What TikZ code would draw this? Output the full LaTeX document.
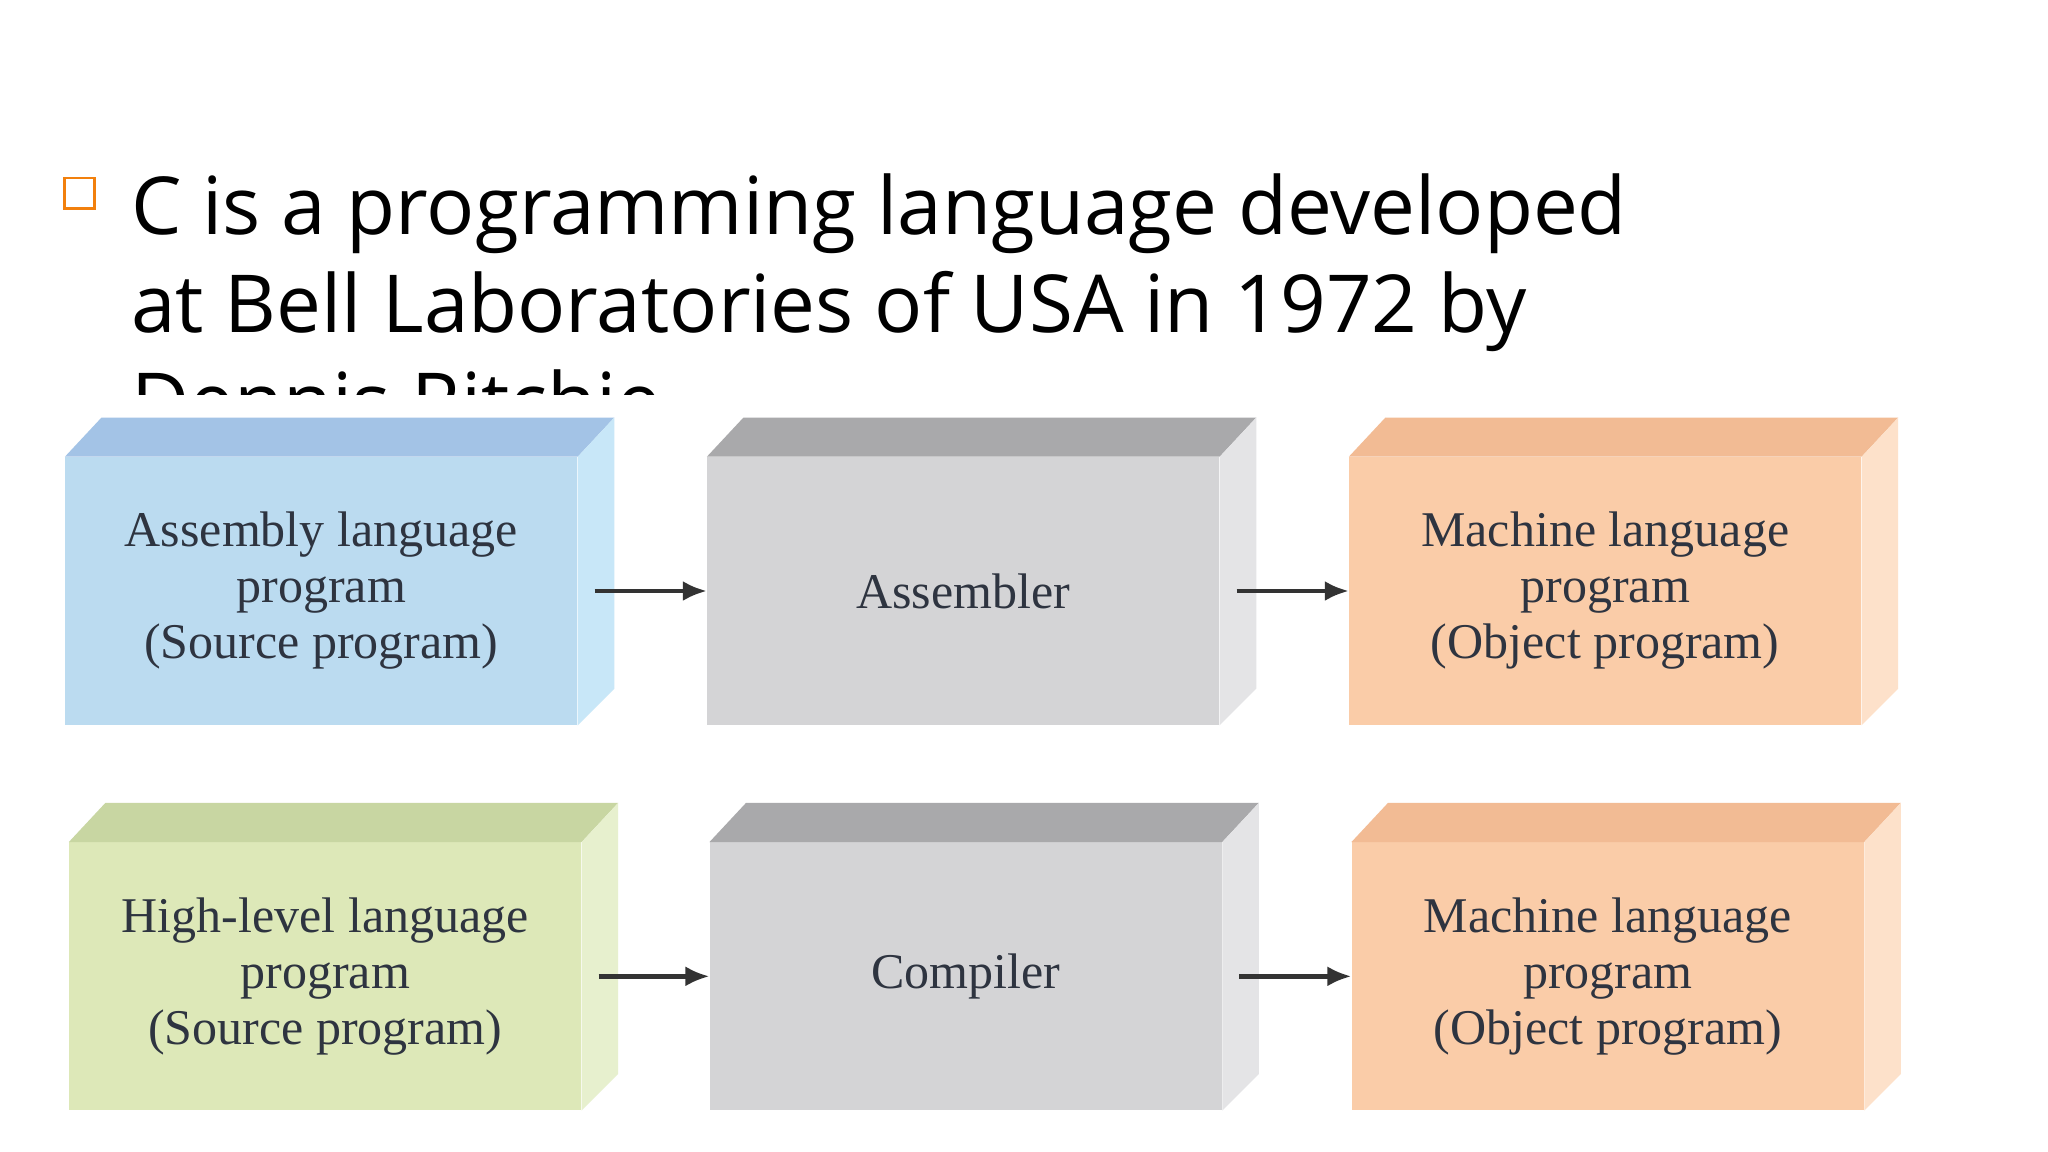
\documentclass[tikz,border=0pt]{standalone}
\usepackage{fontspec}
\usetikzlibrary{arrows.meta}
\setmainfont{Liberation Serif}
\newfontfamily\titlefont{Open Sans}
\definecolor{bF}{HTML}{BBDBF0}\definecolor{bT}{HTML}{A3C3E6}\definecolor{bS}{HTML}{C8E7F8}
\definecolor{gF}{HTML}{D4D4D6}\definecolor{gT}{HTML}{A9A9AB}\definecolor{gS}{HTML}{E4E4E6}
\definecolor{oF}{HTML}{FACCA8}\definecolor{oT}{HTML}{F2BB94}\definecolor{oS}{HTML}{FDE1CA}
\definecolor{lF}{HTML}{DDE8B8}\definecolor{lT}{HTML}{C8D6A2}\definecolor{lS}{HTML}{E7F0CE}
\definecolor{txt}{HTML}{2E3440}
\newcommand{\mycube}[5]{%
  \node[front, fill=#4F] (#1) at (#2,#3) {#5};
  \fill[#4T] (#1.north west) -- ++(28,-30) -- ([shift={(28,-30)}]#1.north east) -- (#1.north east) -- cycle;
  \fill[#4S] (#1.north east) -- ++(28,-30) -- ([shift={(28,-28)}]#1.south east) -- (#1.south east) -- cycle;
}
\begin{document}
\begin{tikzpicture}[x=0.653pt,y=-0.653pt,
  front/.style={minimum width=392*0.653pt, minimum height=205*0.653pt, inner sep=0pt, align=center,
    font=\fontsize{25}{28}\selectfont, text=txt},
  arr/.style={draw=black!80, line width=2.2pt, -{Latex[length=12pt,width=10pt]}}]
\useasboundingbox (0,0) rectangle (1568,882);
\fill[white] (0,0) rectangle (1568,882);
\node[draw=orange!80!brown, line width=1.2pt, minimum size=15pt, inner sep=0pt] (bul) at (61,148) {};
\begin{scope}
\clip (0,0) rectangle (1568,302);
\node[anchor=north west, align=left, font=\titlefont\fontsize{40}{49}\selectfont, inner sep=0pt] (title) at (100,133)
 {C is a programming language developed\\at Bell Laboratories of USA in 1972 by\\Dennis Ritchie};
\end{scope}
\mycube{a1}{246}{452.5}{b}{Assembly language\\program\\(Source program)}
\mycube{a2}{737.5}{452.5}{g}{Assembler}
\mycube{a3}{1229}{452.5}{o}{Machine language\\program\\(Object program)}
\mycube{c1}{249}{747.5}{l}{High-level language\\program\\(Source program)}
\mycube{c2}{739.5}{747.5}{g}{Compiler}
\mycube{c3}{1231}{747.5}{o}{Machine language\\program\\(Object program)}
\draw[arr] ([xshift=8.5pt]a1.east) -- (a2.west);
\draw[arr] ([xshift=8.5pt]a2.east) -- (a3.west);
\draw[arr] ([xshift=8.5pt]c1.east) -- (c2.west);
\draw[arr] ([xshift=8.5pt]c2.east) -- (c3.west);
\end{tikzpicture}
\end{document}
